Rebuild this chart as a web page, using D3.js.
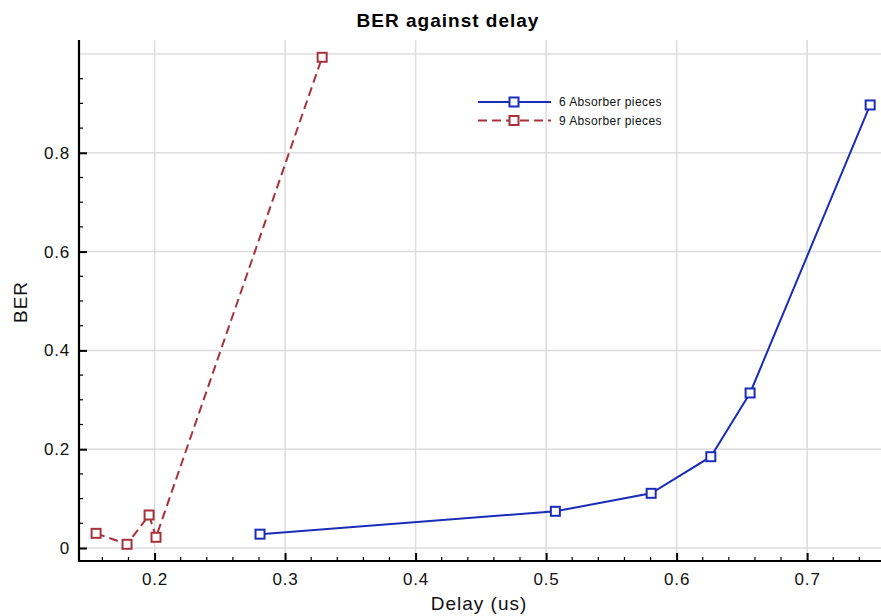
<!DOCTYPE html>
<html><head><meta charset="utf-8">
<script src="https://cdn.jsdelivr.net/npm/d3@7"></script>
<style>body{margin:0;background:#fff}svg{display:block}text{font-family:"Liberation Sans",Arial,Helvetica,sans-serif}</style>
</head><body><svg id="c" width="881" height="616"></svg>
<script>
const series6X = [0.2808, 0.5071, 0.5805, 0.6262, 0.6563, 0.7483];
const series6Y = [0.028, 0.0743, 0.1107, 0.1848, 0.3138, 0.8968];
const series9X = [0.1552, 0.1789, 0.1958, 0.2011, 0.3284];
const series9Y = [0.0297, 0.0075, 0.0668, 0.0217, 0.9933];
const seriesNames = ["6 Absorber pieces", "9 Absorber pieces"];
const xTicks = [0.2, 0.3, 0.4, 0.5, 0.6, 0.7];
const yTicks = [0, 0.2, 0.4, 0.6, 0.8];
const yGrid = [0, 0.2, 0.4, 0.6, 0.8, 1.0];

const svg = d3.select("#c");
const L = 79, R = 881, T = 40, B = 561;
const x = d3.scaleLinear().domain([0.1421, 0.7566]).range([L, R]);
const y = d3.scaleLinear().domain([-0.0263, 1.0283]).range([B, T]);

const blue = "#1a2db9", red = "#a8313a";
const dash = "9,5";

// grid
svg.append("g").selectAll("line").data(xTicks).join("line")
  .attr("x1", d => x(d)).attr("x2", d => x(d)).attr("y1", T).attr("y2", B)
  .attr("stroke", "#dcdcdc").attr("stroke-width", 1.5);
svg.append("g").selectAll("line").data(yGrid).join("line")
  .attr("x1", L).attr("x2", R).attr("y1", d => y(d)).attr("y2", d => y(d))
  .attr("stroke", "#dcdcdc").attr("stroke-width", 1.5);

// axes
const xMinor = d3.range(0.16, 0.76, 0.02).filter(v => Math.abs(v*10 - Math.round(v*10)) > 1e-6);
const yMinor = d3.range(0.05, 1.03, 0.05).filter(v => Math.abs(v*5 - Math.round(v*5)) > 1e-6);

const xAxis = d3.axisBottom(x).tickValues(xTicks).tickFormat(d3.format("")).tickSize(-8);
const gx = svg.append("g").attr("transform", `translate(0,${B})`).call(xAxis);
gx.select(".domain").remove();
gx.selectAll(".tick line").attr("stroke", "#000").attr("stroke-width", 2);
gx.selectAll("text").attr("y", 24).attr("dy", null).attr("font-size", 17)
  .attr("letter-spacing", 0.8).attr("fill", "#111");
svg.append("g").selectAll("line").data(xMinor).join("line")
  .attr("x1", d => x(d)).attr("x2", d => x(d)).attr("y1", B).attr("y2", B - 4)
  .attr("stroke", "#000").attr("stroke-width", 1.2);

const yAxis = d3.axisLeft(y).tickValues(yTicks).tickFormat(d3.format("")).tickSize(-8);
const gy = svg.append("g").attr("transform", `translate(${L},0)`).call(yAxis);
gy.select(".domain").remove();
gy.selectAll(".tick line").attr("stroke", "#000").attr("stroke-width", 2);
gy.selectAll("text").attr("x", -9).attr("font-size", 17).attr("letter-spacing", 0.8).attr("fill", "#111");
svg.append("g").selectAll("line").data(yMinor).join("line")
  .attr("x1", L).attr("x2", L + 4).attr("y1", d => y(d)).attr("y2", d => y(d))
  .attr("stroke", "#000").attr("stroke-width", 1.2);

svg.append("line").attr("x1", L).attr("x2", L).attr("y1", T).attr("y2", B + 1)
  .attr("stroke", "#000").attr("stroke-width", 2.2);
svg.append("line").attr("x1", L - 1).attr("x2", R).attr("y1", B).attr("y2", B)
  .attr("stroke", "#000").attr("stroke-width", 2.2);

// lines
const line = d3.line().x(d => x(d[0])).y(d => y(d[1]));
const d6 = series6X.map((v, i) => [v, series6Y[i]]);
const d9 = series9X.map((v, i) => [v, series9Y[i]]);
svg.append("path").datum(d6).attr("d", line).attr("fill", "none").attr("stroke", blue).attr("stroke-width", 2);
svg.append("path").datum(d9).attr("d", line).attr("fill", "none").attr("stroke", red).attr("stroke-width", 2).attr("stroke-dasharray", dash);

function markers(data, col) {
  svg.append("g").selectAll("rect").data(data).join("rect")
    .attr("x", d => x(d[0]) - 4.5).attr("y", d => y(d[1]) - 4.5)
    .attr("width", 9).attr("height", 9)
    .attr("fill", "#fff").attr("stroke", col).attr("stroke-width", 2);
}
markers(d6, blue);
markers(d9, red);

// legend
const legend = [{name: seriesNames[0], col: blue, dash: null}, {name: seriesNames[1], col: red, dash: dash}];
legend.forEach((s, i) => {
  const ly = 102 + i * 18.5;
  svg.append("line").attr("x1", 478).attr("x2", 551).attr("y1", ly).attr("y2", ly)
    .attr("stroke", s.col).attr("stroke-width", 2).attr("stroke-dasharray", s.dash);
  svg.append("rect").attr("x", 514 - 4.5).attr("y", ly - 4.5).attr("width", 9).attr("height", 9)
    .attr("fill", "#fff").attr("stroke", s.col).attr("stroke-width", 2);
  svg.append("text").attr("x", 559).attr("y", ly + 4.3).attr("font-size", 12)
    .attr("letter-spacing", 0.4).attr("fill", "#111").text(s.name);
});

// titles
svg.append("text").attr("x", 448).attr("y", 27).attr("text-anchor", "middle")
  .attr("font-size", 19).attr("letter-spacing", 1).attr("font-weight", "bold").attr("fill", "#000").text("BER against delay");
svg.append("text").attr("x", 479).attr("y", 610).attr("text-anchor", "middle")
  .attr("font-size", 19).attr("letter-spacing", 1).attr("fill", "#111").text("Delay (us)");
svg.append("text").attr("transform", "translate(27,302) rotate(-90)").attr("text-anchor", "middle")
  .attr("font-size", 19).attr("letter-spacing", 1).attr("fill", "#111").text("BER");
</script></body></html>
